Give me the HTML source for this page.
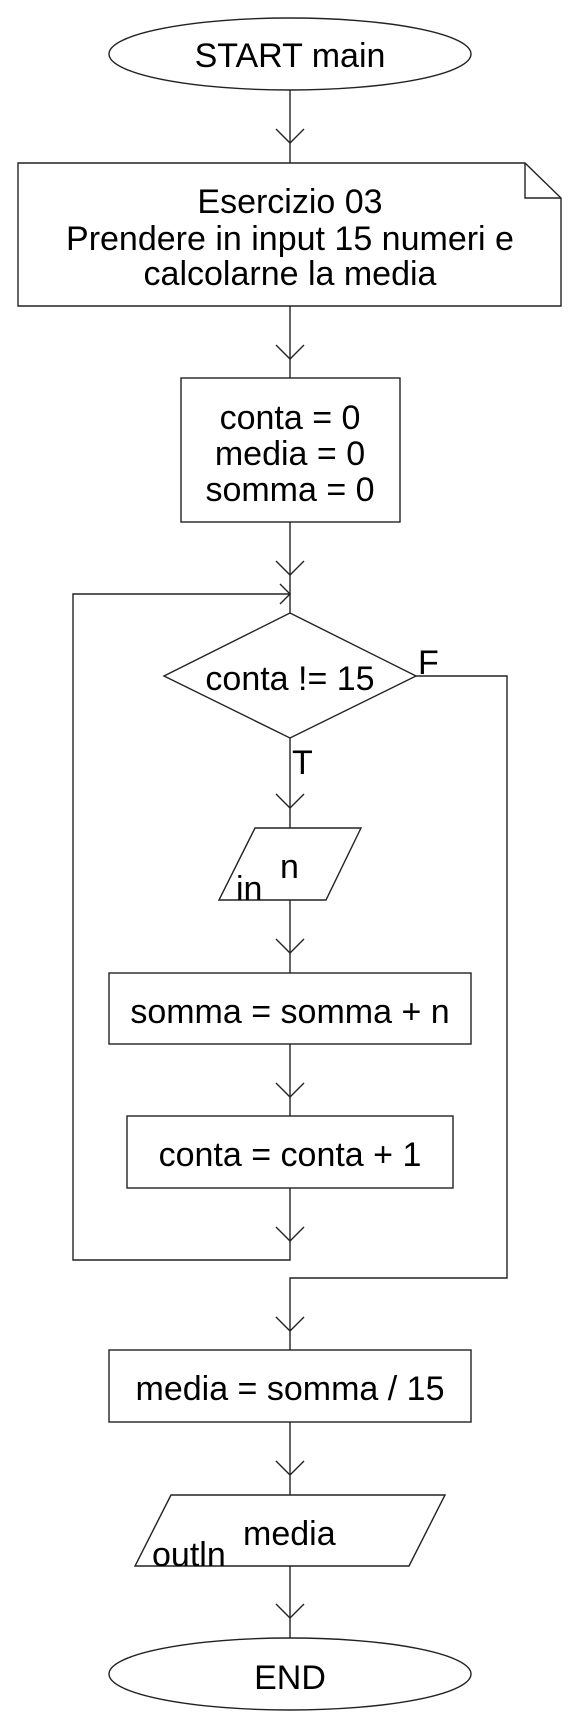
<!DOCTYPE html>
<html><head><meta charset="utf-8"><style>
html,body{margin:0;padding:0;background:#fff;width:576px;height:1728px;overflow:hidden}
svg{display:block}
text{font-family:"Liberation Sans",Arial,sans-serif;font-size:34px;fill:#000}
</style></head><body>
<svg width="576" height="1728" viewBox="0 0 576 1728">
<g fill="none" stroke="#222" stroke-width="1.4">
  <ellipse cx="290" cy="54" rx="181" ry="36" fill="#fff"/>
  <line x1="290" y1="90" x2="290" y2="163"/>
  <polyline points="276,129 290,143 304,129"/>
  <path d="M18,163 H525 L561,198 V306 H18 Z M525,163 V198 H561" fill="#fff"/>
  <line x1="290" y1="306" x2="290" y2="378"/>
  <polyline points="276,345 290,359 304,345"/>
  <rect x="181" y="378" width="219" height="144" fill="#fff"/>
  <line x1="290" y1="522" x2="290" y2="613"/>
  <polyline points="276,561 290,575 304,561"/>
  <polyline points="290,1241 290,1260 73,1260 73,594 290,594"/>
  <polyline points="280,584 290,594 280,604"/>
  <polygon points="290,613 416,676 290,738 164,676" fill="#fff"/>
  <polyline points="416,676 507,676 507,1278 290,1278 290,1350"/>
  <line x1="290" y1="738" x2="290" y2="828"/>
  <polyline points="276,794 290,808 304,794"/>
  <polygon points="255,828 361,828 326,900 219,900" fill="#fff"/>
  <line x1="290" y1="900" x2="290" y2="973"/>
  <polyline points="276,939 290,953 304,939"/>
  <rect x="109" y="973" width="362" height="71" fill="#fff"/>
  <line x1="290" y1="1044" x2="290" y2="1116"/>
  <polyline points="276,1083 290,1097 304,1083"/>
  <rect x="127" y="1116" width="326" height="72" fill="#fff"/>
  <line x1="290" y1="1188" x2="290" y2="1241"/>
  <polyline points="276,1227 290,1241 304,1227"/>
  <polyline points="276,1317 290,1331 304,1317"/>
  <rect x="109" y="1350" width="362" height="72" fill="#fff"/>
  <line x1="290" y1="1422" x2="290" y2="1495"/>
  <polyline points="276,1461 290,1475 304,1461"/>
  <polygon points="171,1495 445,1495 409,1566 135,1566" fill="#fff"/>
  <line x1="290" y1="1566" x2="290" y2="1638"/>
  <polyline points="276,1604 290,1618 304,1604"/>
  <ellipse cx="290" cy="1674" rx="181" ry="36" fill="#fff"/>
</g>
<g text-anchor="middle">
  <text x="290" y="67">START main</text>
  <text x="290" y="213">Esercizio 03</text>
  <text x="290" y="250">Prendere in input 15 numeri e</text>
  <text x="290" y="285">calcolarne la media</text>
  <text x="290" y="429">conta = 0</text>
  <text x="290" y="465">media = 0</text>
  <text x="290" y="501">somma = 0</text>
  <text x="290" y="690">conta != 15</text>
  <text x="290" y="1023">somma = somma + n</text>
  <text x="290" y="1166">conta = conta + 1</text>
  <text x="290" y="1400">media = somma / 15</text>
  <text x="290" y="1689">END</text>
</g>
<text x="418" y="674">F</text>
<text x="292" y="774">T</text>
<text x="280" y="878">n</text>
<text x="236" y="900">in</text>
<text x="243" y="1545">media</text>
<text x="152" y="1566">outln</text>
</svg>
</body></html>
